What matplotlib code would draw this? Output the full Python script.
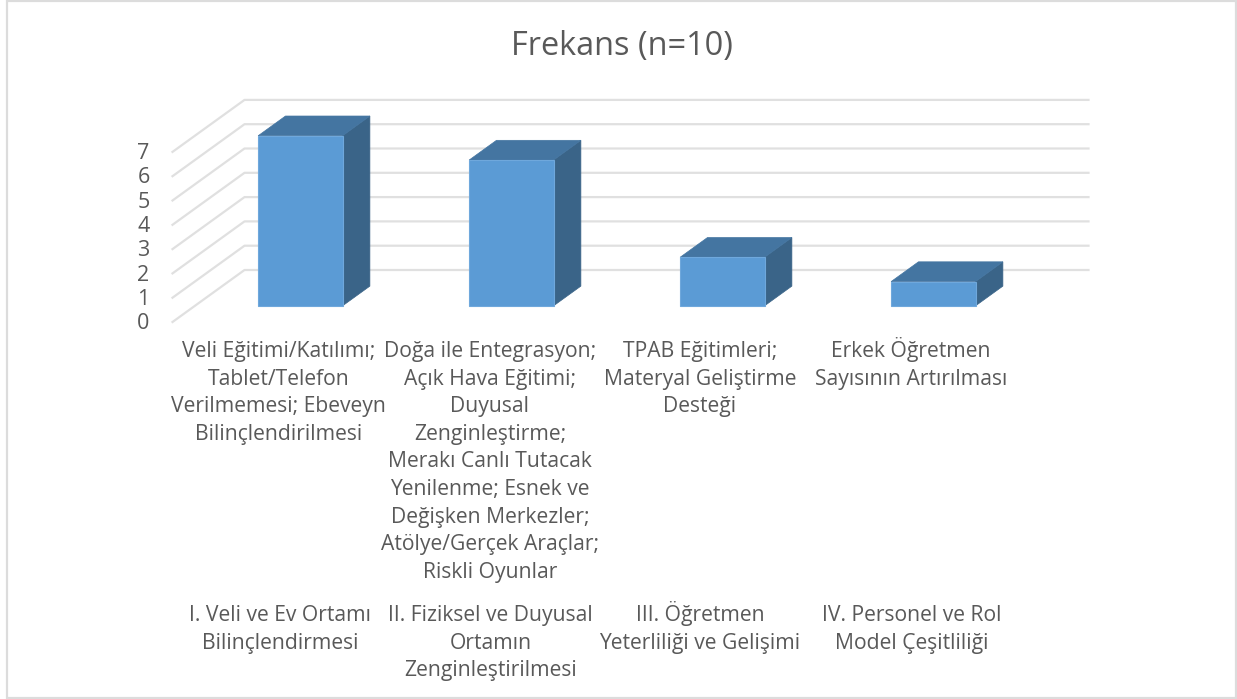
import matplotlib
matplotlib.use('Agg')
import matplotlib.pyplot as plt
from matplotlib.patches import Polygon, Rectangle

plt.rcParams['font.family'] = ['Open Sans', 'DejaVu Sans']

degerler = [7, 6, 2, 1]
y_etiketler = [0, 1, 2, 3, 4, 5, 6, 7]
alt_etiketler = [
    ['Veli Eğitimi/Katılımı;', 'Tablet/Telefon', 'Verilmemesi; Ebeveyn', 'Bilinçlendirilmesi'],
    ['Doğa ile Entegrasyon;', 'Açık Hava Eğitimi;', 'Duyusal', 'Zenginleştirme;', 'Merakı Canlı Tutacak',
     'Yenilenme; Esnek ve', 'Değişken Merkezler;', 'Atölye/Gerçek Araçlar;', 'Riskli Oyunlar'],
    ['TPAB Eğitimleri;', 'Materyal Geliştirme', 'Desteği'],
    ['Erkek Öğretmen', 'Sayısının Artırılması'],
]
ust_etiketler = [
    ['I. Veli ve Ev Ortamı', 'Bilinçlendirmesi'],
    ['II. Fiziksel ve Duyusal', 'Ortamın', 'Zenginleştirilmesi'],
    ['III. Öğretmen', 'Yeterliliği ve Gelişimi'],
    ['IV. Personel ve Rol', 'Model Çeşitliliği'],
]

W, H = 1237, 699
birim_x = 211.0
birim_y = 24.3
x0 = 278.0
y0 = 322.0
# derinlik (data biriminde)
dx = 72 / birim_x
dy = 52 / birim_y
d_on, d_arka = 0.31, 0.69
genislik = 0.40

fig = plt.figure(figsize=(W / 100, H / 100), dpi=100)
ax = fig.add_axes([0, 0, 1, 1])
ax.set_xlim(-x0 / birim_x, (W - x0) / birim_x)
ax.set_ylim((y0 - H) / birim_y, y0 / birim_y)
ax.axis('off')


def pr(x, v, d):
    return (x + d * dx, v + d * dy)


def yazi(px, py, s, boyut, va='baseline'):
    # piksel konumuna yazi
    ax.text(px / W, 1 - py / H, s, transform=ax.transAxes, ha='center', va=va,
            fontsize=boyut, color='#595959')


# cerceve
ax.add_patch(Rectangle((7.5 / W, 1 - 698 / H), 1228.5 / W, 697 / H, transform=ax.transAxes,
                       fill=False, ec='#dcdcdc', lw=1.6))

# izgara
for v in y_etiketler:
    a = pr(-0.5, v, 0)
    b = pr(-0.5, v, 1)
    c = pr(3.5, v, 1)
    ax.plot([a[0], b[0], c[0]], [a[1], b[1], c[1]], color='#e0e0e0', lw=1.6, zorder=1)
    ax.text(a[0] - 29 / birim_x, v - 1.7 / birim_y, str(v), ha='center', va='center',
            fontsize=15.5, color='#595959')

# cubuklar
for i, v in enumerate(degerler):
    x1, x2 = i - genislik / 2, i + genislik / 2
    on = [pr(x1, 0, d_on), pr(x2, 0, d_on), pr(x2, v, d_on), pr(x1, v, d_on)]
    yan = [pr(x2, 0, d_on), pr(x2, 0, d_arka), pr(x2, v, d_arka), pr(x2, v, d_on)]
    ust = [pr(x1, v, d_on), pr(x2, v, d_on), pr(x2, v, d_arka), pr(x1, v, d_arka)]
    ax.add_patch(Polygon(yan, fc='#3a6488', ec='#3a6488', lw=0.5, zorder=3))
    ax.add_patch(Polygon(ust, fc='#4475a1', ec='#4475a1', lw=0.5, zorder=3))
    ax.add_patch(Polygon(on, fc='#5b9bd5', ec='#6fa8dc', lw=0.8, zorder=4))

# etiketler
yazi(622, 55, 'Frekans (n=10)', 23.4)
alt_x = [278.5, 490, 700, 911]
ust_x = [280, 490.5, 700, 912]
for i in range(4):
    for k, satir in enumerate(alt_etiketler[i]):
        yazi(alt_x[i], 357 + k * 27.6, satir, 15.2)
    for k, satir in enumerate(ust_etiketler[i]):
        yazi(ust_x[i], 621 + k * 27.6, satir, 15.2)

fig.savefig('out.png', dpi=100)
